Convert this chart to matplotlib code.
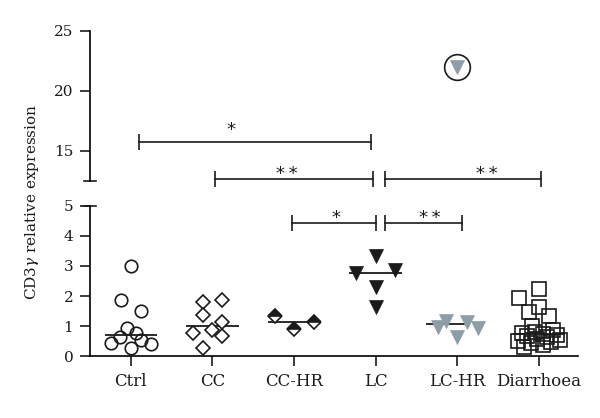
import matplotlib
matplotlib.use("Agg")
import matplotlib.pyplot as plt
import numpy as np
from matplotlib.transforms import blended_transform_factory

plt.rcParams['font.family'] = ['DejaVu Serif']
plt.rcParams['mathtext.fontset'] = 'dejavuserif'

categories = ["Ctrl", "CC", "CC-HR", "LC", "LC-HR", "Diarrhoea"]

ctrl_y = [3.0, 1.87, 1.5, 0.92, 0.62, 0.76, 0.44, 0.28, 0.55, 0.39]
ctrl_dx = [0.0, -0.12, 0.12, -0.05, -0.135, 0.06, -0.24, 0.0, 0.12, 0.245]

cc_y = [1.81, 1.87, 1.37, 1.14, 0.76, 0.87, 0.67, 0.26]
cc_dx = [-0.12, 0.12, -0.12, 0.12, -0.24, 0.0, 0.12, -0.12]

cchr_y = [1.33, 0.9, 1.14]
cchr_dx = [-0.23, 0.0, 0.24]

lc_y = [3.33, 2.76, 2.87, 2.31, 1.62]
lc_dx = [0.0, -0.24, 0.24, 0.0, 0.0]

lchr_y = [0.98, 1.18, 0.62, 1.14, 0.92, 22.0]
lchr_dx = [-0.24, -0.135, 0.0, 0.12, 0.25, 0.0]

diar_y = [2.22, 1.92, 1.62, 1.48, 1.33, 1.0, 0.88, 0.80, 0.76, 0.74,
          0.70, 0.66, 0.62, 0.58, 0.55, 0.50, 0.46, 0.42, 0.36, 0.30]
diar_dx = [0.0, -0.24, 0.0, -0.12, 0.12, -0.08, 0.18, -0.05, -0.2, 0.05,
           0.22, -0.15, 0.1, -0.02, 0.26, -0.25, 0.15, -0.1, 0.05, -0.18]

bracket_x1 = [0.1, 1.03, 3.12, 1.98, 3.12]
bracket_x2 = [2.94, 2.97, 5.03, 3.0, 4.06]
bracket_y = [15.75, 12.64, 12.64, 4.42, 4.42]
bracket_labels = ["*", "*\u2009*", "*\u2009*", "*", "*\u2009*"]
star_x = [1.23, 1.91, 4.36, 2.51, 3.67]

gray = '#8d9ea7'
ink = '#1a1a1a'

fig = plt.figure(figsize=(6.0, 4.18), dpi=100)
ax_lo = fig.add_axes([0.15, 0.1483, 0.8133, 0.3589])
ax_hi = fig.add_axes([0.15, 0.567, 0.8133, 0.3600])

for ax in (ax_lo, ax_hi):
    ax.set_xlim(-0.5, 5.48)
    ax.spines['top'].set_visible(False)
    ax.spines['right'].set_visible(False)
    ax.spines['left'].set_linewidth(1.2)
    ax.spines['bottom'].set_linewidth(1.2)
    ax.tick_params(axis='both', direction='out', length=7, width=1.2,
                   pad=5, color=ink, labelcolor=ink)
    ax.tick_params(axis='y', labelsize=11)
    ax.tick_params(axis='x', labelsize=12)
    ax.set_facecolor('none')

ax_lo.set_ylim(0, 5)
ax_lo.set_yticks([0, 1, 2, 3, 4, 5])
ax_lo.set_xticks(range(len(categories)))
ax_lo.set_xticklabels(categories)

ax_hi.set_ylim(12.5, 25)
ax_hi.set_yticks([15, 20, 25])
ax_hi.spines['bottom'].set_visible(False)
ax_hi.set_xticks([])

mk_lw = 1.2


def scatter(ax, i, ys, dxs, **kw):
    xs = [i + d for d in dxs]
    ax.plot(xs, ys, ls='none', clip_on=False, zorder=3, **kw)


def median_line(ax, i, ys, half=0.32, shift=0.0):
    m = np.median(ys)
    ax.plot([i - half + shift, i + half + shift], [m, m], color=ink, lw=1.3,
            zorder=2, solid_capstyle='butt')


# Ctrl
scatter(ax_lo, 0, ctrl_y, ctrl_dx, marker='o', ms=9, mfc='none', mec=ink, mew=mk_lw)
median_line(ax_lo, 0, ctrl_y)
# CC
scatter(ax_lo, 1, cc_y, cc_dx, marker='D', ms=7.5, mfc='white', mec=ink, mew=mk_lw)
median_line(ax_lo, 1, cc_y)
# CC-HR
scatter(ax_lo, 2, cchr_y, cchr_dx, marker='D', ms=7.5, fillstyle='top',
        mfc=ink, mfcalt='white', mec=ink, mew=mk_lw)
median_line(ax_lo, 2, cchr_y)
# LC
scatter(ax_lo, 3, lc_y, lc_dx, marker='v', ms=10, mfc=ink, mec=ink, mew=0.5)
median_line(ax_lo, 3, lc_y)
# LC-HR
lo_y = [y for y in lchr_y if y <= 5]
lo_dx = [d for d, y in zip(lchr_dx, lchr_y) if y <= 5]
hi_y = [y for y in lchr_y if y > 5]
hi_dx = [d for d, y in zip(lchr_dx, lchr_y) if y > 5]
scatter(ax_lo, 4, lo_y, lo_dx, marker='v', ms=10, mfc=gray, mec=gray, mew=0.5)
median_line(ax_lo, 4, lchr_y, half=0.24, shift=-0.14)
scatter(ax_hi, 4, hi_y, hi_dx, marker='v', ms=10, mfc=gray, mec=gray, mew=0.5)
scatter(ax_hi, 4, hi_y, hi_dx, marker='o', ms=18.5, mfc='none', mec=ink, mew=1.2)
# Diarrhoea
scatter(ax_lo, 5, diar_y, diar_dx, marker='s', ms=9.5, mfc='none', mec=ink, mew=mk_lw)
median_line(ax_lo, 5, diar_y)

# significance brackets
for x1, x2, y, lab, sx in zip(bracket_x1, bracket_x2, bracket_y, bracket_labels, star_x):
    ax = ax_hi if y > 5 else ax_lo
    ax.plot([x1, x2], [y, y], color=ink, lw=1.2, clip_on=False, zorder=2)
    ax.plot([x1, x2], [y, y], ls='none', marker='|', ms=12, mew=1.2, mec=ink,
            clip_on=False, zorder=2)
    off = 4.0 if y < 15 else 8.5
    ax.annotate(lab, (sx, y), xytext=(0, off), textcoords='offset points',
                ha='center', va='center', fontsize=13, family='DejaVu Sans',
                color=ink, annotation_clip=False)

# axis break marks
for ax, yv in ((ax_lo, 5), (ax_hi, 12.5)):
    tr = blended_transform_factory(ax.transAxes, ax.transData)
    ax.plot([-0.012, 0.012], [yv, yv], color=ink, lw=1.2, transform=tr, clip_on=False)

fig.text(0.053, 0.517, r"CD3$\mathit{\gamma}$ relative expression", rotation=90,
         ha='center', va='center', fontsize=11, color=ink)

fig.savefig("out.png", dpi=100)
